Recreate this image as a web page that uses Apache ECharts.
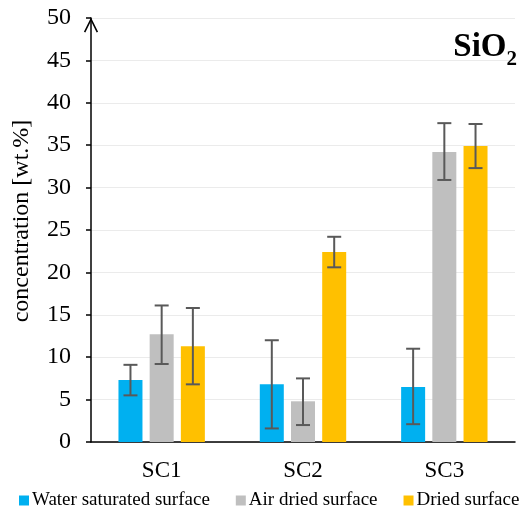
<!DOCTYPE html>
<html>
<head>
<meta charset="utf-8">
<script src="https://cdn.jsdelivr.net/npm/echarts@6/dist/echarts.min.js"></script>
<style>
  html, body { margin: 0; padding: 0; background: #fff; }
  #main { width: 531px; height: 512px; }
</style>
</head>
<body>
<div id="main"></div>
<script>
// data
const categories = ['SC1', 'SC2', 'SC3']
const seriesNames = ['Water saturated surface', 'Air dried surface', 'Dried surface']
const waterValues = [7.3, 6.8, 6.5]
const airValues = [12.7, 4.8, 34.2]
const driedValues = [11.3, 22.4, 34.9]
// error bar ranges [low, high]
const waterErr = [[5.5, 9.1], [1.6, 12.0], [2.1, 11.0]]
const airErr = [[9.2, 16.1], [2.0, 7.5], [30.9, 37.6]]
const driedErr = [[6.8, 15.8], [20.6, 24.2], [32.3, 37.5]]

const colors = ['#00B0F0', '#BFBFBF', '#FFC000']
const fontFamily = '"Liberation Serif", "Times New Roman", serif'
const barWidth = 24
const barGap = 0.3

function errData(err, seriesIndex) {
  return err.map((e, i) => [i, e[0], e[1], seriesIndex])
}

// error bars drawn on top of the grouped bars
function renderErr(params, api) {
  const idx = api.value(3)
  const shift = (idx - 1) * barWidth * (1 + barGap)
  const lo = api.coord([api.value(0), api.value(1)])
  const hi = api.coord([api.value(0), api.value(2)])
  const x = lo[0] + shift
  const half = 7
  const style = { stroke: '#595959', lineWidth: 2 }
  return {
    type: 'group',
    children: [
      { type: 'line', shape: { x1: x, y1: lo[1], x2: x, y2: hi[1] }, style: style },
      { type: 'line', shape: { x1: x - half, y1: lo[1], x2: x + half, y2: lo[1] }, style: style },
      { type: 'line', shape: { x1: x - half, y1: hi[1], x2: x + half, y2: hi[1] }, style: style }
    ]
  }
}

const chart = echarts.init(document.getElementById('main'), null, { renderer: 'canvas' })

const option = {
  animation: false,
  textStyle: { fontFamily: fontFamily, color: '#000' },
  title: {
    text: '{a|SiO}{b|2}',
    right: 9,
    top: 26,
    textStyle: {
      rich: {
        a: { fontFamily: fontFamily, fontWeight: 'bold', fontSize: 33, color: '#000', verticalAlign: 'top', lineHeight: 33 },
        b: { fontFamily: fontFamily, fontWeight: 'bold', fontSize: 21, color: '#000', verticalAlign: 'top', lineHeight: 21, padding: [18, 0, 0, 0] }
      }
    }
  },
  legend: {
    data: seriesNames,
    left: 14,
    top: 486,
    itemWidth: 10,
    itemHeight: 10,
    itemGap: 26,
    icon: 'rect',
    textStyle: { fontFamily: fontFamily, fontSize: 19, color: '#000', padding: [0, 0, 0, -2] }
  },
  grid: { left: 91, right: 16, top: 18, bottom: 70, containLabel: false },
  xAxis: {
    type: 'category',
    data: categories,
    axisTick: { show: false },
    axisLine: { lineStyle: { color: '#000', width: 1.5 } },
    axisLabel: { fontFamily: fontFamily, fontSize: 23, color: '#000', margin: 17 }
  },
  yAxis: {
    type: 'value',
    min: 0,
    max: 50,
    interval: 5,
    name: 'concentration [wt.%]',
    nameLocation: 'middle',
    nameGap: 57,
    nameTextStyle: { fontFamily: fontFamily, fontSize: 24, color: '#000', padding: [0, 0, 0, 18] },
    axisLine: {
      show: true,
      lineStyle: { color: '#000', width: 1.5 },
      symbol: ['none', 'path://M0,10 L5,0 L10,10 L9,10.6 L5,2.4 L1,10.6 Z'],
      symbolSize: [15, 15],
      symbolOffset: [0, -7]
    },
    axisTick: { show: true, length: 5, lineStyle: { color: '#000', width: 1.5 } },
    axisLabel: { fontFamily: fontFamily, fontSize: 24, color: '#000', margin: 20 },
    splitLine: { lineStyle: { color: '#EBEBEB', width: 1 } }
  },
  series: [
    { name: seriesNames[0], type: 'bar', data: waterValues, barWidth: barWidth, barGap: '30%', itemStyle: { color: colors[0] } },
    { name: seriesNames[1], type: 'bar', data: airValues, barWidth: barWidth, barGap: '30%', itemStyle: { color: colors[1] } },
    { name: seriesNames[2], type: 'bar', data: driedValues, barWidth: barWidth, barGap: '30%', itemStyle: { color: colors[2] } },
    { type: 'custom', renderItem: renderErr, data: errData(waterErr, 0), encode: { x: 0, y: [1, 2] }, z: 10 },
    { type: 'custom', renderItem: renderErr, data: errData(airErr, 1), encode: { x: 0, y: [1, 2] }, z: 10 },
    { type: 'custom', renderItem: renderErr, data: errData(driedErr, 2), encode: { x: 0, y: [1, 2] }, z: 10 }
  ]
}

chart.setOption(option)
</script>
</body>
</html>
